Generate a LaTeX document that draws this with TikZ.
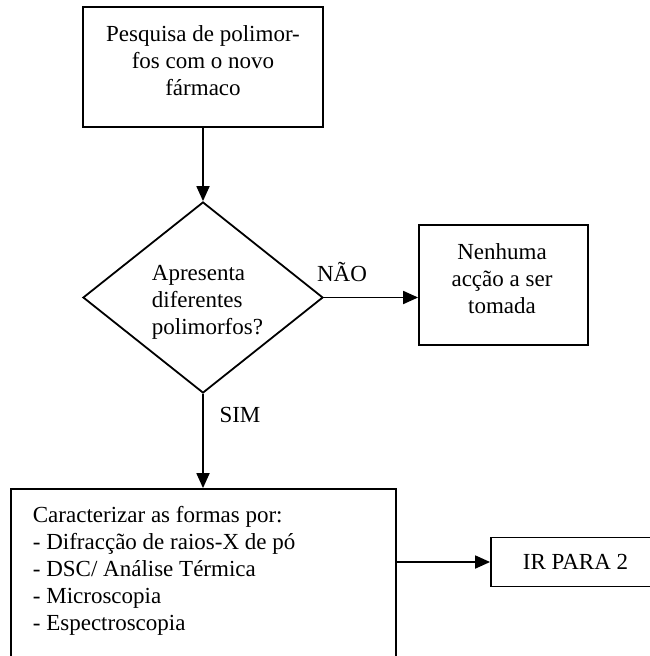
\documentclass[tikz,border=0pt]{standalone}
\usepackage{fontspec}
\setmainfont{Liberation Serif}
\usetikzlibrary{shapes.geometric,arrows.meta}
\begin{document}
\begin{tikzpicture}[x=1pt,y=-1pt,
  line width=1.8pt,
  boxshape/.style={draw,rectangle,inner sep=0pt},
  decision/.style={draw,diamond,inner sep=0pt},
  txt/.style={inner sep=0pt,font=\fontsize{23}{27}\selectfont},
  flow/.style={-{Triangle[length=15pt,width=13pt]}}]
\useasboundingbox (0,0) rectangle (650,656);
\clip (0,0) rectangle (650,656);
% boxes
\node[boxshape,minimum width=240pt,minimum height=120pt] (search) at (203,67) {};
\node[decision,minimum width=240pt,minimum height=191pt] (ask) at (203,297.5) {};
\node[boxshape,minimum width=169pt,minimum height=120pt] (none) at (503.5,285) {};
\node[boxshape,minimum width=385pt,minimum height=200pt] (charact) at (203.5,589) {};
\node[boxshape,minimum width=180pt,minimum height=49pt] (next) at (581,562) {};
% texts
\node[txt,align=center] (tsearch) at (203,60.5) {Pesquisa de polimor-\\fos com o novo\\fármaco};
\node[txt,align=left,anchor=west] (task) at (151,302) {Apresenta\\diferentes\\polimorfos?};
\node[txt,align=center] (tnone) at (502,279) {Nenhuma\\acção a ser\\tomada};
\node[txt,align=left,anchor=north west] (tcharact) at (32,505) {Caracterizar as formas por:\\- Difracção de raios-X de pó\\- DSC/ Análise Térmica\\- Microscopia\\- Espectroscopia};
\node[txt,anchor=west] (tnext) at (522,562) {IR PARA 2};
% connectors
\draw[flow] (search.south) -- (ask.north);
\draw[flow] (ask.east) -- (none.west |- ask.east);
\draw[flow] (ask.south) -- (ask.south |- charact.north);
\draw[flow] (charact.east |- next.west) -- (next.west);
% branch labels
\node[txt] (no) at (342,272) {NÃO};
\node[txt] (yes) at (240,415) {SIM};
\end{tikzpicture}
\end{document}
